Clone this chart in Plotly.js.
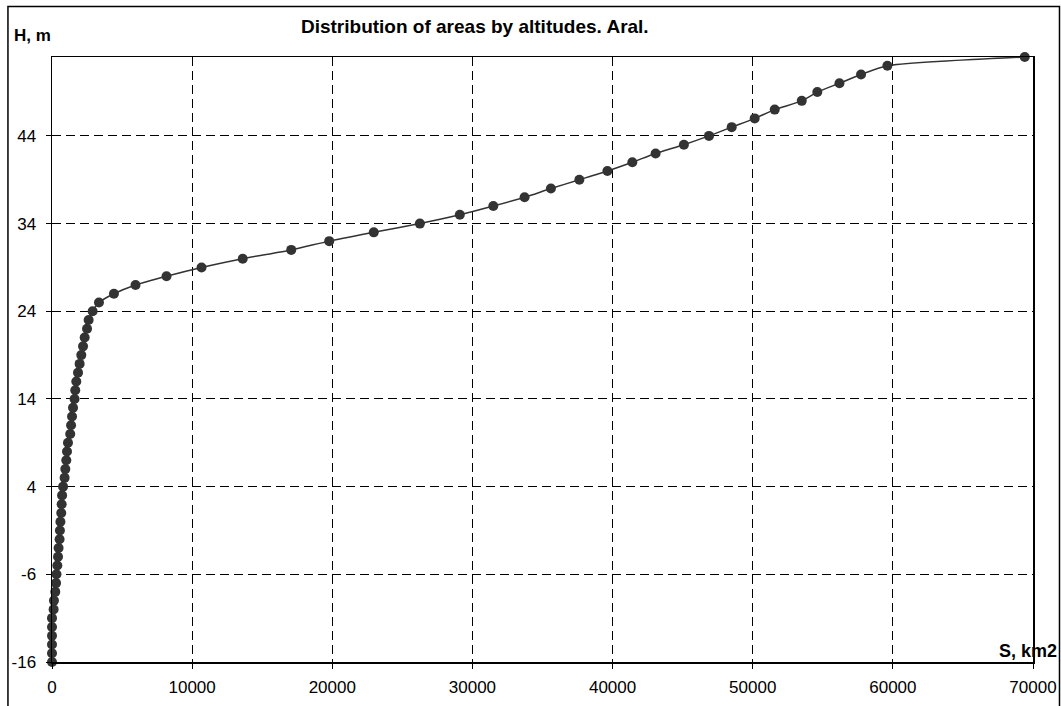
<!DOCTYPE html>
<html>
<head>
<meta charset="utf-8">
<script src="https://cdn.plot.ly/plotly-3.0.1.min.js"></script>
<style>
  html, body { margin: 0; padding: 0; background: #ffffff; }
  #chart { width: 1061px; height: 706px; }
</style>
</head>
<body>
<div id="chart"></div>
<script>
// Altitude H, m (one point per metre)
const altitudes = [-16, -15, -14, -13, -12, -11, -10, -9, -8, -7, -6, -5, -4, -3, -2, -1,
  0, 1, 2, 3, 4, 5, 6, 7, 8, 9, 10, 11, 12, 13, 14, 15, 16, 17, 18, 19, 20, 21, 22, 23, 24,
  25, 26, 27, 28, 29, 30, 31, 32, 33, 34, 35, 36, 37, 38, 39, 40, 41, 42, 43, 44, 45, 46,
  47, 48, 49, 50, 51, 52, 53];
// Area S, km2 below each altitude
const areas = [0, 0, 0, 0, 0, 0, 115, 140, 235, 290, 320, 380, 430, 470, 540, 565,
  600, 660, 690, 720, 790, 900, 950, 1020, 1070, 1140, 1300, 1360, 1430, 1500, 1610, 1660,
  1735, 1857, 1970, 2090, 2215, 2330, 2500, 2615, 2900,
  3350, 4420, 5960, 8170, 10670, 13610, 17070, 19780, 22960, 26250, 29100, 31490, 33720,
  35600, 37630, 39630, 41410, 43070, 45090, 46880, 48500, 50140, 51570, 53500, 54610,
  56190, 57730, 59610, 69410];

const xTicks = [0, 10000, 20000, 30000, 40000, 50000, 60000, 70000];
const yTicks = [-16, -6, 4, 14, 24, 34, 44];

const titleText = 'Distribution of areas by altitudes. Aral.';
const yLabel = 'H, m';
const xLabel = 'S, km2';

const trace = {
  x: areas,
  y: altitudes,
  type: 'scatter',
  mode: 'lines+markers',
  line: { color: '#333333', width: 1.5, shape: 'spline', smoothing: 0.6 },
  marker: { color: '#333333', size: 10, symbol: 'circle' },
  cliponaxis: false,
  hoverinfo: 'x+y'
};

const axisCommon = {
  showline: true,
  linecolor: '#000000',
  linewidth: 1.5,
  mirror: true,
  ticks: 'outside',
  ticklen: 5,
  tickcolor: '#000000',
  tickwidth: 1,
  showgrid: true,
  gridcolor: '#000000',
  gridwidth: 1,
  griddash: '9px,5px',
  zeroline: false,
  tickfont: { family: 'Liberation Sans, Arial, sans-serif', size: 17, color: '#000000' }
};

const layout = {
  width: 1061,
  height: 706,
  margin: { l: 52, r: 28, t: 57, b: 44 },
  paper_bgcolor: '#ffffff',
  plot_bgcolor: '#ffffff',
  showlegend: false,
  title: {
    text: '<b>' + titleText + '</b>',
    font: { family: 'Liberation Sans, Arial, sans-serif', size: 19, color: '#000000' },
    x: 0.431, xref: 'paper', xanchor: 'center',
    y: 0.963, yref: 'container', yanchor: 'middle'
  },
  xaxis: Object.assign({}, axisCommon, {
    range: [0, 70000],
    tickvals: xTicks,
    ticktext: xTicks.map(String),
    ticklabelstandoff: 4
  }),
  yaxis: Object.assign({}, axisCommon, {
    range: [-16, 53],
    tickvals: yTicks,
    ticktext: yTicks.map(String),
    ticklabelstandoff: 6
  }),
  annotations: [
    {
      text: '<b>' + yLabel + '</b>', xref: 'paper', yref: 'paper',
      x: -0.0408, y: 1.036, xanchor: 'left', yanchor: 'middle', showarrow: false,
      font: { family: 'Liberation Sans, Arial, sans-serif', size: 17, color: '#000000' }
    },
    {
      text: '<b>' + xLabel + '</b>', xref: 'paper', yref: 'paper',
      x: 1.0265, y: 0.018, xanchor: 'right', yanchor: 'middle', showarrow: false,
      font: { family: 'Liberation Sans, Arial, sans-serif', size: 18, color: '#000000' }
    }
  ],
  shapes: [
    {
      type: 'rect', xref: 'paper', yref: 'paper',
      x0: -0.0449, x1: 1.027, y0: -0.09, y1: 1.0835,
      line: { color: '#000000', width: 1.5 }, fillcolor: 'rgba(0,0,0,0)', layer: 'below'
    }
  ]
};

Plotly.newPlot('chart', [trace], layout, { displayModeBar: false, staticPlot: true });
</script>
</body>
</html>
